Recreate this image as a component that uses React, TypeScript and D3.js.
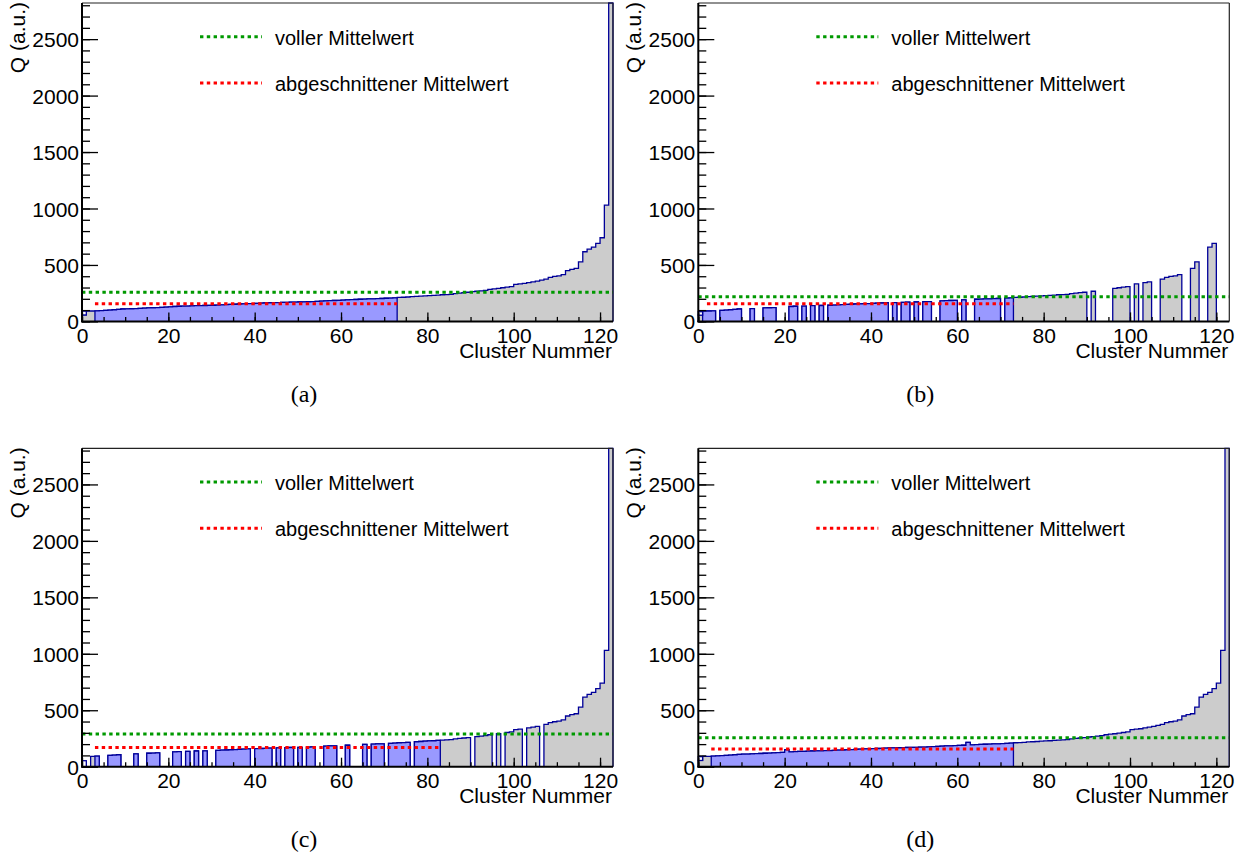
import * as d3 from "d3"
import { useRef, useEffect } from "react"

// sorted cluster charges, panel (a)
const clusterQ = [
  57, 91, 92, 94, 96, 98, 100, 103, 106, 110,
  111, 112, 113, 115, 117, 119, 121, 122, 124, 126,
  129, 132, 134, 135, 136, 138, 139, 140, 141, 142,
  143, 145, 147, 148, 150, 152, 154, 155, 157, 158,
  160, 161, 163, 165, 166, 167, 168, 169, 170, 171,
  172, 173, 174, 176, 178, 180, 182, 184, 185, 186,
  188, 190, 192, 194, 196, 198, 199, 200, 202, 203,
  205, 207, 209, 212, 214, 216, 219, 221, 223, 226,
  228, 230, 233, 236, 238, 240, 246, 250, 254, 258,
  263, 267, 271, 275, 283, 288, 292, 298, 303, 308,
  328, 332, 336, 344, 350, 357, 366, 375, 390, 398,
  403, 414, 449, 461, 469, 528, 617, 641, 658, 691,
  741, 1030, 2820,
]
// clusters missing in (b) and (c)
const removedB = [4, 10, 11, 13, 14, 18, 19, 20, 23, 25, 27, 29, 44, 46, 49, 51, 54, 55, 60, 62, 63, 70,
  90, 92, 93, 94, 95, 100, 102, 105, 106, 112, 113, 116, 117, 120, 121, 122]
const removedC = [0, 1, 4, 5, 9, 10, 11, 13, 14, 18, 19, 20, 23, 25, 27, 29, 30, 39, 44, 46, 49, 51, 54, 55,
  59, 60, 62, 63, 64, 66, 70, 76, 90, 95, 97, 102, 106]
// bins that differ in (d)
const changedD = [[20, 150], [62, 215]]

const panelNames = ["(a)", "(b)", "(c)", "(d)"]
const fullMean = [258, 219, 290, 257]
const cutMean = [157, 157, 169, 157]
const cutFrom = [3, 2, 3, 3]
const cutTo = [73, 73, 83, 73]
const blueFrom = [3, 1, 3, 3]
const blueTo = [73, 73, 83, 73]
// open outlined box drawn on top of the first bin: [bottom, top]
const firstBinBox = [[57, 91], [55, 86], [0, 53], [55, 89]]
const legendLabels = ["voller Mittelwert", "abgeschnittener Mittelwert"]

const nBins = 123
const yMax = 2820
const sans = "'Liberation Sans', Arial, sans-serif"
const navy = "#000099"

const panelValues = (k: number) => {
  const v = clusterQ.slice()
  if (k === 1) removedB.forEach((i) => (v[i] = 0))
  if (k === 2) removedC.forEach((i) => (v[i] = 0))
  if (k === 3) changedD.forEach(([i, q]) => (v[i] = q))
  return v
}

// consecutive non-empty bins
const runs = (vals: number[], from: number, to: number) => {
  const out: [number, number][][] = []
  let cur: [number, number][] = []
  for (let i = from; i < to; i++) {
    if (vals[i] > 0) cur.push([i, vals[i]])
    else if (cur.length) { out.push(cur); cur = [] }
  }
  if (cur.length) out.push(cur)
  return out
}

const App = () => {
  const svgRef = useRef<SVGSVGElement>(null)

  useEffect(() => {
    const svg = d3.select(svgRef.current)
    svg.selectAll("*").remove()

    panelNames.forEach((name, k) => {
      const ox = (k % 2) * 616.3
      const oy = Math.floor(k / 2) * 445.3
      const g = svg.append("g").attr("transform", `translate(${ox},${oy})`)

      const x = d3.scaleLinear().domain([0, nBins]).range([82, 613])
      const y = d3.scaleLinear().domain([0, yMax]).range([321.4, 3])
      const vals = panelValues(k)

      const area = d3.area<[number, number]>()
        .x((d) => x(d[0])).y0(y(0)).y1((d) => y(d[1]))
        .curve(d3.curveStepAfter)
      const line = d3.line<[number, number]>()
        .x((d) => x(d[0])).y((d) => y(d[1]))
        .curve(d3.curveStepAfter)

      const drawHist = (from: number, to: number, fill: string) => {
        runs(vals, from, to).forEach((r) => {
          const last = r[r.length - 1]
          const pts: [number, number][] = [...r, [last[0] + 1, last[1]]]
          g.append("path").attr("d", area(pts)).attr("fill", fill)
          const outline: [number, number][] = [[r[0][0], 0], ...pts, [last[0] + 1, 0]]
          g.append("path").attr("d", line(outline))
            .attr("fill", "none").attr("stroke", navy).attr("stroke-width", 1.3)
        })
      }
      drawHist(0, nBins, "#cccccc")
      drawHist(blueFrom[k], blueTo[k], "#9999ff")

      const [b0, b1] = firstBinBox[k]
      g.append("rect")
        .attr("x", x(0)).attr("width", x(1) - x(0))
        .attr("y", y(b1)).attr("height", y(b0) - y(b1))
        .attr("fill", "#fff").attr("stroke", navy).attr("stroke-width", 1.3)

      // mean lines
      g.append("line")
        .attr("x1", x(0)).attr("x2", x(nBins))
        .attr("y1", y(fullMean[k])).attr("y2", y(fullMean[k]))
        .attr("stroke", "#009900").attr("stroke-width", 3).attr("stroke-dasharray", "3.4 3.4")
      g.append("line")
        .attr("x1", x(cutFrom[k])).attr("x2", x(cutTo[k]))
        .attr("y1", y(cutMean[k])).attr("y2", y(cutMean[k]))
        .attr("stroke", "#ff0000").attr("stroke-width", 3).attr("stroke-dasharray", "3.4 3.4")

      // frame
      g.append("line").attr("x1", 613).attr("x2", 613).attr("y1", 3).attr("y2", 321.4)
        .attr("stroke", "#222").attr("stroke-width", 1.2)
      g.append("line").attr("x1", 82).attr("x2", 613).attr("y1", 3).attr("y2", 3)
        .attr("stroke", "#222").attr("stroke-width", 1.2)

      // x axis
      g.append("g")
        .attr("transform", `translate(0,${y(0)})`)
        .call(d3.axisBottom(x).tickValues(d3.range(0, 121, 5)).tickSize(-4.5).tickFormat(() => ""))
        .call((a) => a.select(".domain").remove())
      const xa = g.append("g")
        .attr("transform", `translate(0,${y(0)})`)
        .call(d3.axisBottom(x).tickValues(d3.range(0, 121, 20)).tickSize(-9).tickPadding(0).tickFormat(d3.format("d")))
      xa.select(".domain").remove()
      xa.selectAll("text").attr("font-size", 21).attr("font-family", sans).attr("fill", "#000")
        .attr("y", 21.2).attr("dy", 0)

      // y axis
      g.append("g")
        .attr("transform", "translate(82,0)")
        .call(d3.axisLeft(y).tickValues(d3.range(0, 2801, 100)).tickSize(-8).tickFormat(() => ""))
        .call((a) => a.select(".domain").remove())
      const ya = g.append("g")
        .attr("transform", "translate(82,0)")
        .call(d3.axisLeft(y).tickValues(d3.range(0, 2501, 500)).tickSize(-16).tickPadding(3).tickFormat(d3.format("d")))
      ya.select(".domain").remove()
      ya.selectAll("text").attr("font-size", 21).attr("font-family", sans).attr("fill", "#000")
        .attr("x", -3).attr("dy", "0.36em")
      g.selectAll(".tick line").attr("stroke", "#000").attr("stroke-width", 1.3)

      g.append("line").attr("x1", 82).attr("x2", 82).attr("y1", 3).attr("y2", 322)
        .attr("stroke", "#000").attr("stroke-width", 2)
      g.append("line").attr("x1", 81).attr("x2", 613).attr("y1", 321.4).attr("y2", 321.4)
        .attr("stroke", "#000").attr("stroke-width", 2)

      // axis titles
      g.append("text").attr("x", 612).attr("y", 358).attr("text-anchor", "end")
        .attr("font-family", sans).attr("font-size", 21).text("Cluster Nummer")
      g.append("text").attr("transform", "translate(25,2) rotate(-90)").attr("text-anchor", "end")
        .attr("font-family", sans).attr("font-size", 21).text("Q (a.u.)")

      // legend
      const legColors = ["#009900", "#ff0000"]
      legendLabels.forEach((lab, j) => {
        const ly = 36.7 + j * 46.3
        g.append("line").attr("x1", 200).attr("x2", 262).attr("y1", ly).attr("y2", ly)
          .attr("stroke", legColors[j]).attr("stroke-width", 3).attr("stroke-dasharray", "3.4 3.4")
        g.append("text").attr("x", 275).attr("y", ly + 8).attr("font-family", sans).attr("font-size", 20)
          .text(lab)
      })

      // panel label
      g.append("text").attr("x", 304).attr("y", 402).attr("text-anchor", "middle")
        .attr("font-family", "'Liberation Serif', 'DejaVu Serif', serif").attr("font-size", 24).text(name)
    })
  }, [])

  return (
    <svg ref={svgRef} width={1244} height={857}
      style={{ position: "absolute", left: 0, top: 0, background: "#fff" }}></svg>
  )
}

export default App
